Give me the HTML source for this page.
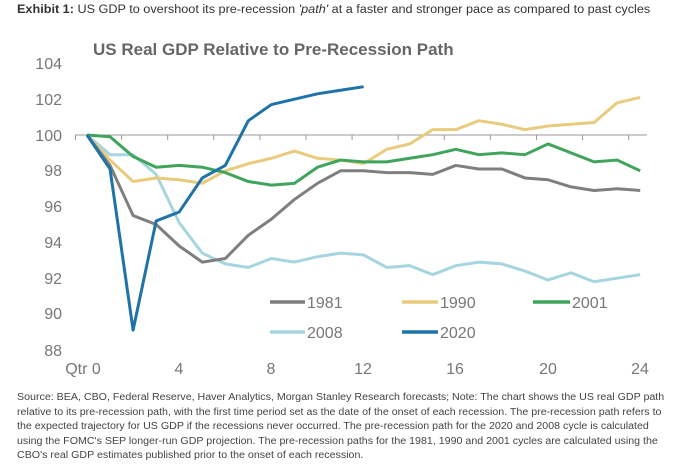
<!DOCTYPE html>
<html><head><style>
body{margin:0;background:#fff;width:688px;height:474px;overflow:hidden;font-family:"Liberation Sans",sans-serif;}
.hdr{position:absolute;left:17px;top:4px;font-size:11.5px;color:#333;white-space:nowrap;transform:scaleX(1.1);transform-origin:0 0}
.ft{position:absolute;left:17px;top:391px;font-size:10px;line-height:14.5px;color:#444;transform:scaleX(1.065);transform-origin:0 0}
.ft div{white-space:nowrap}
</style></head><body>
<div class="hdr"><b>Exhibit 1:</b> US GDP to overshoot its pre-recession <i>'path'</i> at a faster and stronger pace as compared to past cycles</div>
<svg width="688" height="474" style="position:absolute;left:0;top:0" font-family="Liberation Sans, sans-serif">
<text x="93" y="55" font-size="17" font-weight="bold" fill="#666">US Real GDP Relative to Pre-Recession Path</text>
<g font-size="16" fill="#777" text-anchor="end">
<text x="62" y="69">104</text><text x="62" y="105">102</text><text x="62" y="141">100</text><text x="62" y="176">98</text><text x="62" y="212">96</text><text x="62" y="248">94</text><text x="62" y="284">92</text><text x="62" y="319">90</text><text x="62" y="356">88</text>
</g>
<g font-size="16" fill="#777" text-anchor="middle">
<text x="83" y="374">Qtr 0</text><text x="179" y="374">4</text><text x="271" y="374">8</text><text x="363" y="374">12</text><text x="455" y="374">16</text><text x="548" y="374">20</text><text x="640" y="374">24</text>
</g>
<line x1="75" y1="135" x2="647" y2="135" stroke="#999" stroke-width="1"/>
<g stroke="#999" id="ticks"></g>
<g fill="none" stroke-width="3" stroke-linejoin="round" id="lines"></g>
<g stroke-width="3.5">
<line x1="270" y1="302" x2="305" y2="302" stroke="#7f7f7f"/>
<line x1="402" y1="302" x2="438" y2="302" stroke="#e8cb7d"/>
<line x1="533" y1="302" x2="570" y2="302" stroke="#3fa45c"/>
<line x1="270" y1="332" x2="305" y2="332" stroke="#a5d6e0"/>
<line x1="402" y1="332" x2="438" y2="332" stroke="#1f73a8"/>
</g>
<g font-size="16" fill="#777">
<text x="307" y="308">1981</text><text x="440" y="308">1990</text><text x="572" y="308">2001</text>
<text x="307" y="338">2008</text><text x="440" y="338">2020</text>
</g>
</svg>
<div class="ft">
<div>Source: BEA, CBO, Federal Reserve, Haver Analytics, Morgan Stanley Research forecasts; Note: The chart shows the US real GDP path</div>
<div>relative to its pre-recession path, with the first time period set as the date of the onset of each recession. The pre-recession path refers to</div>
<div>the expected trajectory for US GDP if the recessions never occurred. The pre-recession path for the 2020 and 2008 cycle is calculated</div>
<div>using the FOMC's SEP longer-run GDP projection. The pre-recession paths for the 1981, 1990 and 2001 cycles are calculated using the</div>
<div>CBO's real GDP estimates published prior to the onset of each recession.</div>
</div>
<script>
var X=q=>87+q*23.05,Y=v=>135+(100-v)*17.9;
var t=document.getElementById('ticks'),s='';
for(var k=0;k<=12;k++){var x=X(2*k-0.5);s+='<line x1="'+x+'" y1="135" x2="'+x+'" y2="140"/>';}
t.innerHTML=s;
var D={
"#1f73a8":[100,98.1,89.1,95.2,95.7,97.6,98.3,100.8,101.7,102.0,102.3,102.5,102.7],
"#a5d6e0":[100,98.9,98.9,97.8,95.1,93.4,92.8,92.6,93.1,92.9,93.2,93.4,93.3,92.6,92.7,92.2,92.7,92.9,92.8,92.4,91.9,92.3,91.8,92.0,92.2],
"#3fa45c":[100,99.9,98.8,98.2,98.3,98.2,97.9,97.4,97.2,97.3,98.2,98.6,98.5,98.5,98.7,98.9,99.2,98.9,99.0,98.9,99.5,99.0,98.5,98.6,98.0],
"#e8cb7d":[100,98.6,97.4,97.6,97.5,97.3,98.0,98.4,98.7,99.1,98.7,98.6,98.4,99.2,99.5,100.3,100.3,100.8,100.6,100.3,100.5,100.6,100.7,101.8,102.1],
"#7f7f7f":[100,98.3,95.5,95.0,93.8,92.9,93.1,94.4,95.3,96.4,97.3,98.0,98.0,97.9,97.9,97.8,98.3,98.1,98.1,97.6,97.5,97.1,96.9,97.0,96.9]};
var order=["#a5d6e0","#e8cb7d","#3fa45c","#7f7f7f","#1f73a8"],h='';
order.forEach(c=>{h+='<polyline stroke="'+c+'" points="'+D[c].map((v,i)=>X(i)+','+Y(v)).join(' ')+'"/>';});
document.getElementById('lines').innerHTML=h;
</script>
</body></html>
